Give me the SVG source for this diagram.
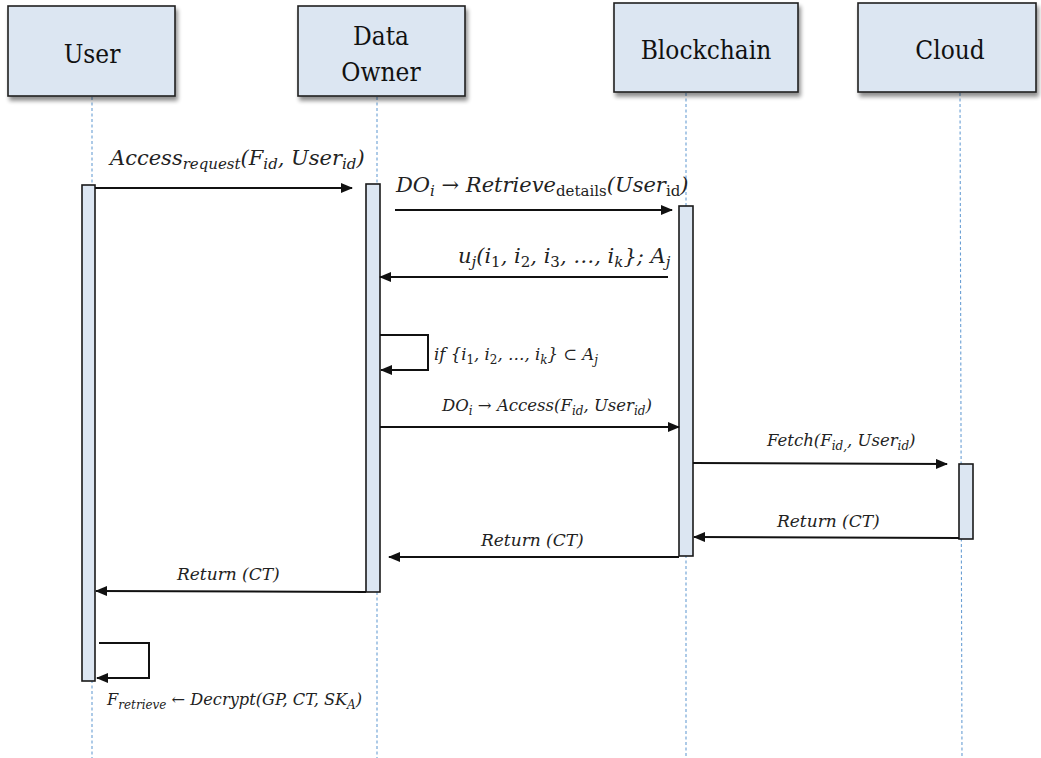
<svg xmlns="http://www.w3.org/2000/svg" width="1041" height="758" viewBox="0 0 1041 758">
  <style>
    .hdr { fill: #dce6f2; stroke: #1f1f1f; stroke-width: 1.6; }
    .hdr-t { font-family: "DejaVu Serif", serif; font-stretch: condensed; font-size: 26px; fill: #111; text-anchor: middle; }
    .life { stroke: #6a9fd4; stroke-width: 1.1; stroke-dasharray: 3 2.5; fill: none; }
    .act { fill: #dce6f2; stroke: #1a1a1a; stroke-width: 1.6; }
    .msg { stroke: #111; stroke-width: 2; fill: none; }
    .lbl { font-family: "DejaVu Serif", "DejaVu Sans", serif; font-style: italic; font-size: 17px; fill: #222; }
    .big { font-size: 21px; }
    .sm { font-size: 16.5px; }
    .xs { font-size: 16.2px; }
    .up { font-style: normal; }
  </style>
  <defs>
    <marker id="arrow" viewBox="0 0 12 10" refX="11" refY="5" markerWidth="12" markerHeight="10" markerUnits="userSpaceOnUse" orient="auto">
      <path d="M0,0 L12,5 L0,10 Z" fill="#111"/>
    </marker>
    <filter id="shadow" x="-10%" y="-10%" width="130%" height="140%">
      <feGaussianBlur in="SourceAlpha" stdDeviation="2"/>
      <feOffset dx="2" dy="4" result="b"/>
      <feComponentTransfer><feFuncA type="linear" slope="0.45"/></feComponentTransfer>
      <feMerge><feMergeNode/><feMergeNode in="SourceGraphic"/></feMerge>
    </filter>
  </defs>
  <rect width="1041" height="758" fill="#ffffff"/>

  <!-- lifelines -->
  <g id="lifelines">
    <line class="life" x1="92" y1="97" x2="92" y2="758"/>
    <line class="life" x1="377" y1="97" x2="377" y2="758"/>
    <line class="life" x1="686" y1="93" x2="686" y2="758"/>
    <line class="life" x1="960" y1="93" x2="962" y2="758"/>
  </g>

  <!-- participants -->
  <g id="user">
    <rect class="hdr" x="8" y="6" width="167" height="90" filter="url(#shadow)"/>
    <text class="hdr-t" x="92" y="63">User</text>
  </g>
  <g id="data-owner">
    <rect class="hdr" x="298" y="6" width="167" height="90" filter="url(#shadow)"/>
    <text class="hdr-t" x="381" y="45">Data</text>
    <text class="hdr-t" x="381" y="81">Owner</text>
  </g>
  <g id="blockchain">
    <rect class="hdr" x="614" y="3" width="184" height="89" filter="url(#shadow)"/>
    <text class="hdr-t" x="706" y="59">Blockchain</text>
  </g>
  <g id="cloud">
    <rect class="hdr" x="858" y="3" width="178" height="89" filter="url(#shadow)"/>
    <text class="hdr-t" x="950" y="59">Cloud</text>
  </g>

  <!-- activation bars -->
  <g id="activations">
    <rect class="act" x="82" y="185" width="13" height="496"/>
    <rect class="act" x="366" y="184" width="14" height="408"/>
    <rect class="act" x="679" y="206" width="14" height="350"/>
    <rect class="act" x="959" y="464" width="14" height="75"/>
  </g>

  <!-- messages -->
  <g id="connectors">
    <line class="msg" x1="95" y1="188" x2="352" y2="188" marker-end="url(#arrow)"/>
    <line class="msg" x1="395" y1="210" x2="672" y2="210" marker-end="url(#arrow)"/>
    <line class="msg" x1="668" y1="277" x2="380" y2="277" marker-end="url(#arrow)"/>
    <polyline class="msg" points="380,335 428,335 428,370 381,370" marker-end="url(#arrow)"/>
    <line class="msg" x1="380" y1="427" x2="679" y2="427" marker-end="url(#arrow)"/>
    <line class="msg" x1="693" y1="463" x2="947" y2="464" marker-end="url(#arrow)"/>
    <line class="msg" x1="959" y1="538" x2="694" y2="537" marker-end="url(#arrow)"/>
    <line class="msg" x1="679" y1="557" x2="389" y2="557" marker-end="url(#arrow)"/>
    <line class="msg" x1="366" y1="592" x2="96" y2="591" marker-end="url(#arrow)"/>
    <polyline class="msg" points="99,643 149,643 149,678 97,678" marker-end="url(#arrow)"/>
  </g>

  <!-- message labels -->
  <g id="labels">
    <text class="lbl big" x="110" y="165">Access<tspan font-size="15" dy="4">request</tspan><tspan dy="-4">(F</tspan><tspan font-size="15" dy="4">id</tspan><tspan dy="-4">, User</tspan><tspan font-size="15" dy="4">id</tspan><tspan dy="-4">)</tspan></text>
    <text class="lbl big" x="396" y="192">DO<tspan font-size="15" dy="4">i</tspan><tspan dy="-4" class="up"> → </tspan>Retrieve<tspan class="up" font-size="15" dy="4">details</tspan><tspan dy="-4">(User</tspan><tspan class="up" font-size="15" dy="4">id</tspan><tspan dy="-4">)</tspan></text>
    <text class="lbl big" x="458" y="263">u<tspan font-size="15" dy="4">j</tspan><tspan dy="-4">(i</tspan><tspan class="up" font-size="15" dy="4">1</tspan><tspan dy="-4">, i</tspan><tspan class="up" font-size="15" dy="4">2</tspan><tspan dy="-4">, i</tspan><tspan class="up" font-size="15" dy="4">3</tspan><tspan dy="-4">, …, i</tspan><tspan font-size="15" dy="4">k</tspan><tspan dy="-4">}; A</tspan><tspan font-size="15" dy="4">j</tspan></text>
    <text class="lbl sm" x="434" y="360">if {i<tspan class="up" font-size="12" dy="4">1</tspan><tspan dy="-4">, i</tspan><tspan class="up" font-size="12" dy="4">2</tspan><tspan dy="-4">, …, i</tspan><tspan font-size="12" dy="4">k</tspan><tspan dy="-4">} <tspan class="up">⊂</tspan> A</tspan><tspan font-size="12" dy="4">j</tspan></text>
    <text class="lbl sm" x="442" y="411">DO<tspan font-size="12" dy="4">i</tspan><tspan dy="-4" class="up"> → </tspan>Access(F<tspan font-size="12" dy="4">id</tspan><tspan dy="-4">, User</tspan><tspan font-size="12" dy="4">id</tspan><tspan dy="-4">)</tspan></text>
    <text class="lbl sm" x="767" y="446">Fetch(F<tspan font-size="12" dy="4">id,</tspan><tspan dy="-4">, User</tspan><tspan font-size="12" dy="4">id</tspan><tspan dy="-4">)</tspan></text>
    <text class="lbl" x="777" y="527">Return (CT)</text>
    <text class="lbl" x="481" y="546">Return (CT)</text>
    <text class="lbl" x="177" y="580">Return (CT)</text>
    <text class="lbl xs" x="107" y="705">F<tspan font-size="12" dy="4">retrieve</tspan><tspan dy="-4" class="up"> ← </tspan>Decrypt(GP, CT, SK<tspan font-size="12" dy="4">A</tspan><tspan dy="-4">)</tspan></text>
  </g>
</svg>
